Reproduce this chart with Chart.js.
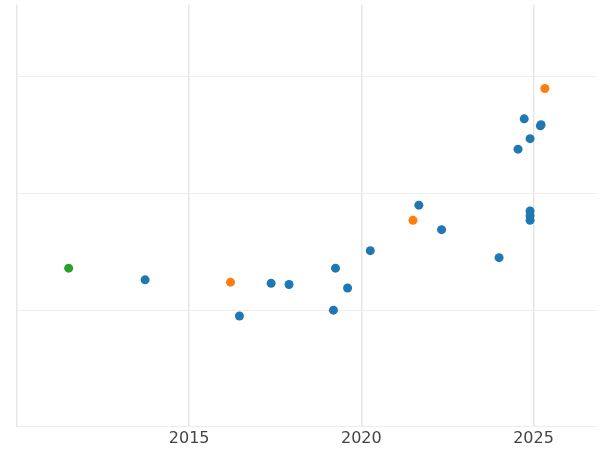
<!DOCTYPE html>
<html>
<head>
<meta charset="utf-8">
<script src="https://cdn.jsdelivr.net/npm/chart.js@4"></script>
<style>
  html, body { margin: 0; padding: 0; background: #fff; }
  #wrap { width: 600px; height: 450px; }
</style>
</head>
<body>
<div id="wrap"><canvas id="chart"></canvas></div>
<script>
// data (year, value)
var blueYears = [2013.72, 2016.46, 2017.38, 2017.9, 2019.25, 2019.19, 2019.6, 2020.26, 2021.67, 2022.33, 2024.0, 2024.55, 2024.73, 2024.9, 2024.9, 2024.9, 2024.9, 2025.2, 2025.22];
var blueValues = [1.26, 0.95, 1.23, 1.22, 1.36, 1.0, 1.19, 1.51, 1.90, 1.69, 1.45, 2.38, 2.64, 2.47, 1.85, 1.81, 1.77, 2.58, 2.59];
var orangeYears = [2016.2, 2021.5, 2025.33];
var orangeValues = [1.24, 1.77, 2.90];
var greenYears = [2011.5];
var greenValues = [1.36];
var xTicks = [2015, 2020, 2025];

function toPoints(xs, ys) {
  return xs.map(function (x, i) { return { x: x, y: ys[i] }; });
}

var ctx = document.getElementById('chart').getContext('2d');
new Chart(ctx, {
  type: 'scatter',
  data: {
    datasets: [
      { data: toPoints(blueYears, blueValues), backgroundColor: '#1f77b4', borderColor: '#1f77b4' },
      { data: toPoints(orangeYears, orangeValues), backgroundColor: '#ff7f0e', borderColor: '#ff7f0e' },
      { data: toPoints(greenYears, greenValues), backgroundColor: '#2ca02c', borderColor: '#2ca02c' }
    ]
  },
  options: {
    responsive: true,
    maintainAspectRatio: false,
    animation: false,
    layout: { padding: { left: 17, right: -4, top: -4, bottom: 0 } },
    elements: { point: { radius: 4.5, borderWidth: 0, hoverRadius: 4.5 } },
    plugins: { legend: { display: false }, tooltip: { enabled: false } },
    scales: {
      x: {
        min: 2010, max: 2026.8,
        afterBuildTicks: function (axis) {
          axis.ticks = [2010].concat(xTicks).map(function (v) { return { value: v }; });
        },
        ticks: {
          color: '#444', font: { size: 16, family: 'DejaVu Sans' }, padding: 2,
          callback: function (v) { return xTicks.indexOf(v) >= 0 ? String(v) : ''; }
        },
        grid: { color: '#e6e6e6', lineWidth: 1.5, drawTicks: false },
        border: { display: false }
      },
      y: {
        min: 0, max: 3.62,
        afterBuildTicks: function (axis) {
          axis.ticks = [0, 1, 2, 3].map(function (v) { return { value: v }; });
        },
        ticks: { display: false },
        afterFit: function (axis) { axis.width = 0; },
        grid: { color: '#ececec', drawTicks: false },
        border: { display: false }
      }
    }
  }
});
</script>
</body>
</html>
